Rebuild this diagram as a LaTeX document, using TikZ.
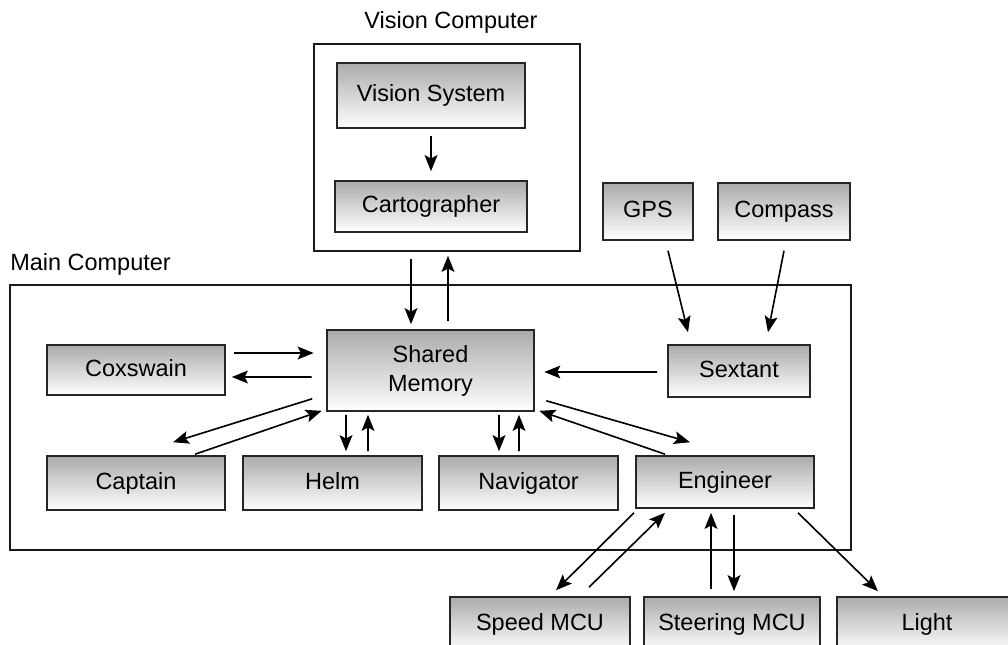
\documentclass[tikz,border=0pt]{standalone}
\usepackage{fontspec}
\setmainfont{Liberation Sans}
\usetikzlibrary{arrows.meta}
\tikzset{
  box/.style={draw=black!85, line width=1.1pt, top color=black!33, bottom color=white,
    minimum width=4.45cm, minimum height=1.3cm, inner sep=0pt, align=center,
    text height=12.5pt, text depth=3.6pt},
  outer/.style={draw=black!90, line width=1.1pt, inner sep=0pt},
  lbl/.style={inner sep=0pt},
  arr/.style={line width=1.15pt, -{Stealth[length=4mm,width=3.2mm,inset=0.8mm]}},
}
\begin{document}
\begin{tikzpicture}[x=0.025cm, y=-0.025cm, font=\fontsize{16.7}{20.6}\selectfont]
	\clip (0,0) rectangle (1008,645);
	% vision computer
	\node[lbl] (vcl) at (451,22) {Vision Computer};
	\node[outer, minimum width=6.65cm, minimum height=5.175cm] (vcomp) at (447,147.5) {};
	\node[box, minimum width=4.7cm, minimum height=1.625cm] (vsys) at (431,95.5) {Vision System};
	\node[box, minimum width=4.8cm, minimum height=1.275cm] (carto) at (431,206.5) {Cartographer};
	\draw[arr]([shift={(0,7)}]vsys.south)--([shift={(0,-9)}]carto.north);
	% sensors
	\node[box, minimum width=2.25cm, minimum height=1.425cm] (gps) at (648,211.5) {GPS};
	\node[box, minimum width=3.3cm, minimum height=1.425cm] (compass) at (784,211.5) {Compass};
	% main computer
	\node[lbl, anchor=west] (mcl) at (10,264) {Main Computer};
	\node[outer, minimum width=21.025cm, minimum height=6.625cm] (mcomp) at (430.5,417.5) {};
	\node[box, minimum width=5.175cm, minimum height=2.025cm, text height=33.1pt] (shm) at (430.5,370.5) {Shared\\Memory};
	\node[box, minimum height=1.25cm] (cox) at (136,370) {Coxswain};
	\node[box, minimum width=3.55cm] (sext) at (739,371) {Sextant};
	\node[box, minimum height=1.35cm] (capt) at (136,483) {Captain};
	\node[box, minimum width=4.475cm, minimum height=1.35cm] (helm) at (332.5,483) {Helm};
	\node[box, minimum width=4.475cm, minimum height=1.35cm] (navi) at (528.5,483) {Navigator};
	\node[box] (eng) at (725,482) {Engineer};
	% controllers
	\node[box, minimum width=4.5cm, minimum height=1.35cm] (speed) at (540,624) {Speed MCU};
	\node[box, minimum width=4.4cm, minimum height=1.35cm] (steer) at (732,624) {Steering MCU};
	\node[box, minimum width=4.5cm, minimum height=1.35cm] (light) at (927,624) {Light};
	% vision <-> shared memory
	\draw[arr]([shift={(-36,7)}]vcomp.south)--([shift={(-19.5,-5)}]shm.north);
	\draw[arr]([shift={(17.5,-8)}]shm.north)--([shift={(1,4)}]vcomp.south);
	% coxswain, captain
	\draw[arr]([shift={(8,-17)}]cox.east)--([shift={(-12.5,-17.5)}]shm.west);
	\draw[arr]([shift={(-14.5,6.5)}]shm.west)--([shift={(6,7)}]cox.east);
	\draw[arr]([shift={(-14,-13)}]shm.south west)--([shift={(37,-13)}]capt.north);
	\draw[arr]([shift={(59,-1)}]capt.north)--([shift={(-4.5,-1)}]shm.south west);
	% helm, navigator
	\draw[arr]([shift={(-84.5,3)}]shm.south)--([shift={(13.5,-4)}]helm.north);
	\draw[arr]([shift={(35.5,-4)}]helm.north)--([shift={(-62.5,3)}]shm.south);
	\draw[arr]([shift={(68.5,3)}]shm.south)--([shift={(-29.5,-4)}]navi.north);
	\draw[arr]([shift={(-9.5,-4)}]navi.north)--([shift={(88.5,3)}]shm.south);
	% engineer, sextant
	\draw[arr]([shift={(11.5,-11)}]shm.south east)--([shift={(-35,-13)}]eng.north);
	\draw[arr]([shift={(-60,-1)}]eng.north)--([shift={(4.5,-1)}]shm.south east);
	\draw[arr]([shift={(-10,1)}]sext.west)--([shift={(9.5,1.5)}]shm.east);
	\draw[arr]([shift={(20,10)}]gps.south)--([shift={(-51,-12)}]sext.north);
	\draw[arr]([shift={(0,10)}]compass.south)--([shift={(29,-12)}]sext.north);
	% engineer <-> controllers
	\draw[arr]([shift={(-91,4)}]eng.south)--([shift={(16,-6)}]speed.north);
	\draw[arr]([shift={(49,-9)}]speed.north)--([shift={(-60,4)}]eng.south);
	\draw[arr]([shift={(-21,-7)}]steer.north)--([shift={(-14,4)}]eng.south);
	\draw[arr]([shift={(9,6)}]eng.south)--([shift={(2,-5)}]steer.north);
	\draw[arr]([shift={(73,4)}]eng.south)--([shift={(-49,-5)}]light.north);
\end{tikzpicture}
\end{document}
